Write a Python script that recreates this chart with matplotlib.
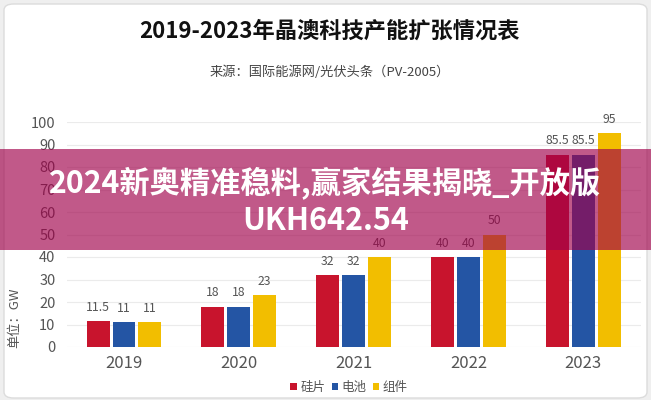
import matplotlib
matplotlib.use("Agg")
import matplotlib.pyplot as plt
from matplotlib.patches import FancyBboxPatch, Rectangle, Patch
import numpy as np

plt.rcParams['font.family'] = ['Noto Sans CJK SC', 'DejaVu Sans']

years = ["2019", "2020", "2021", "2022", "2023"]
series_names = ["硅片", "电池", "组件"]
wafer = [11.5, 18, 32, 40, 85.5]
cell = [11, 18, 32, 40, 85.5]
module = [11, 23, 40, 50, 95]
value_labels = [["11.5", "18", "32", "40", "85.5"],
                ["11", "18", "32", "40", "85.5"],
                ["11", "23", "40", "50", "95"]]
colors = ["#C8142D", "#2455A4", "#F2BE00"]

title = "2019-2023年晶澳科技产能扩张情况表"
subtitle = "来源：国际能源网/光伏头条（PV-2005）"
ylabel = "单位：GW"
banner1 = "2024新奥精准稳料,赢家结果揭晓_开放版"
banner2 = "UKH642.54"

W, H = 651, 400
fig = plt.figure(figsize=(W / 100, H / 100), dpi=100)
fig.patch.set_facecolor("#efefef")

card = FancyBboxPatch((4 / W, 2 / H), 643 / W, 394 / H,
                      boxstyle="round,pad=0,rounding_size=0.015",
                      transform=fig.transFigure, facecolor="white",
                      edgecolor="#dcdcdc", linewidth=1.0, zorder=-5)
fig.patches.append(card)

ax = fig.add_axes([66.6 / W, 53 / H, 574 / W, 225 / H])
ax.set_zorder(1)
ax.set_facecolor("none")
x = np.arange(len(years))
step = 0.226
bw = 0.2
all_series = [wafer, cell, module]
for i, (vals, col) in enumerate(zip(all_series, colors)):
    pos = x + (i - 1) * step
    bars = ax.bar(pos, vals, width=bw, color=col, zorder=3, label=series_names[i])
    for b, lab in zip(bars, value_labels[i]):
        ax.annotate(lab, (b.get_x() + b.get_width() / 2, b.get_height()),
                    xytext=(0, 10), textcoords="offset points",
                    ha="center", va="center", fontsize=8.8, color="#555555")

ax.set_xlim(-0.5, 4.5)
ax.set_ylim(0, 100)
ax.set_yticks(np.arange(0, 101, 10))
ax.set_xticks(x)
ax.set_xticklabels(years)
ax.grid(axis="y", color="#ebebeb", linewidth=0.8, zorder=0)
ax.set_axisbelow(True)
for s in ax.spines.values():
    s.set_visible(False)
ax.tick_params(axis="both", length=0, colors="#555555")
ax.tick_params(axis="y", labelsize=10.5, pad=8)
ax.tick_params(axis="x", labelsize=12, pad=6)

fig.text(329 / W, 1 - 31 / H, title, ha="center", va="center",
         fontsize=16, fontweight="bold", color="#111111")
fig.text(330 / W, 1 - 72 / H, subtitle, ha="center", va="center",
         fontsize=9.5, color="#444444")
fig.text(15 / W, 1 - 318 / H, ylabel, ha="center", va="center",
         rotation=90, fontsize=9.5, color="#555555")

handles = [Patch(facecolor=c, label=n) for c, n in zip(colors, series_names)]
fig.legend(handles=handles, loc="center", bbox_to_anchor=(349 / W, 1 - 387 / H),
           ncol=3, frameon=False, fontsize=9, handlelength=0.5, handleheight=0.5,
           handletextpad=0.3, columnspacing=0.5, labelcolor="#555555")

banner = Rectangle((0, 1 - 250 / H), 1, 101 / H, transform=fig.transFigure,
                   facecolor=(160 / 255, 0, 74 / 255), alpha=0.65,
                   edgecolor="none", zorder=10)
fig.patches.append(banner)
fig.text(325 / W, 1 - 183 / H, banner1, ha="center", va="center",
         fontsize=21.8, fontweight="bold", color="white", zorder=11)
fig.text(326 / W, 1 - 221 / H, banner2, ha="center", va="center",
         fontsize=22, fontweight="bold", color="white", zorder=11)

fig.savefig("out.png", dpi=100, facecolor=fig.get_facecolor())
